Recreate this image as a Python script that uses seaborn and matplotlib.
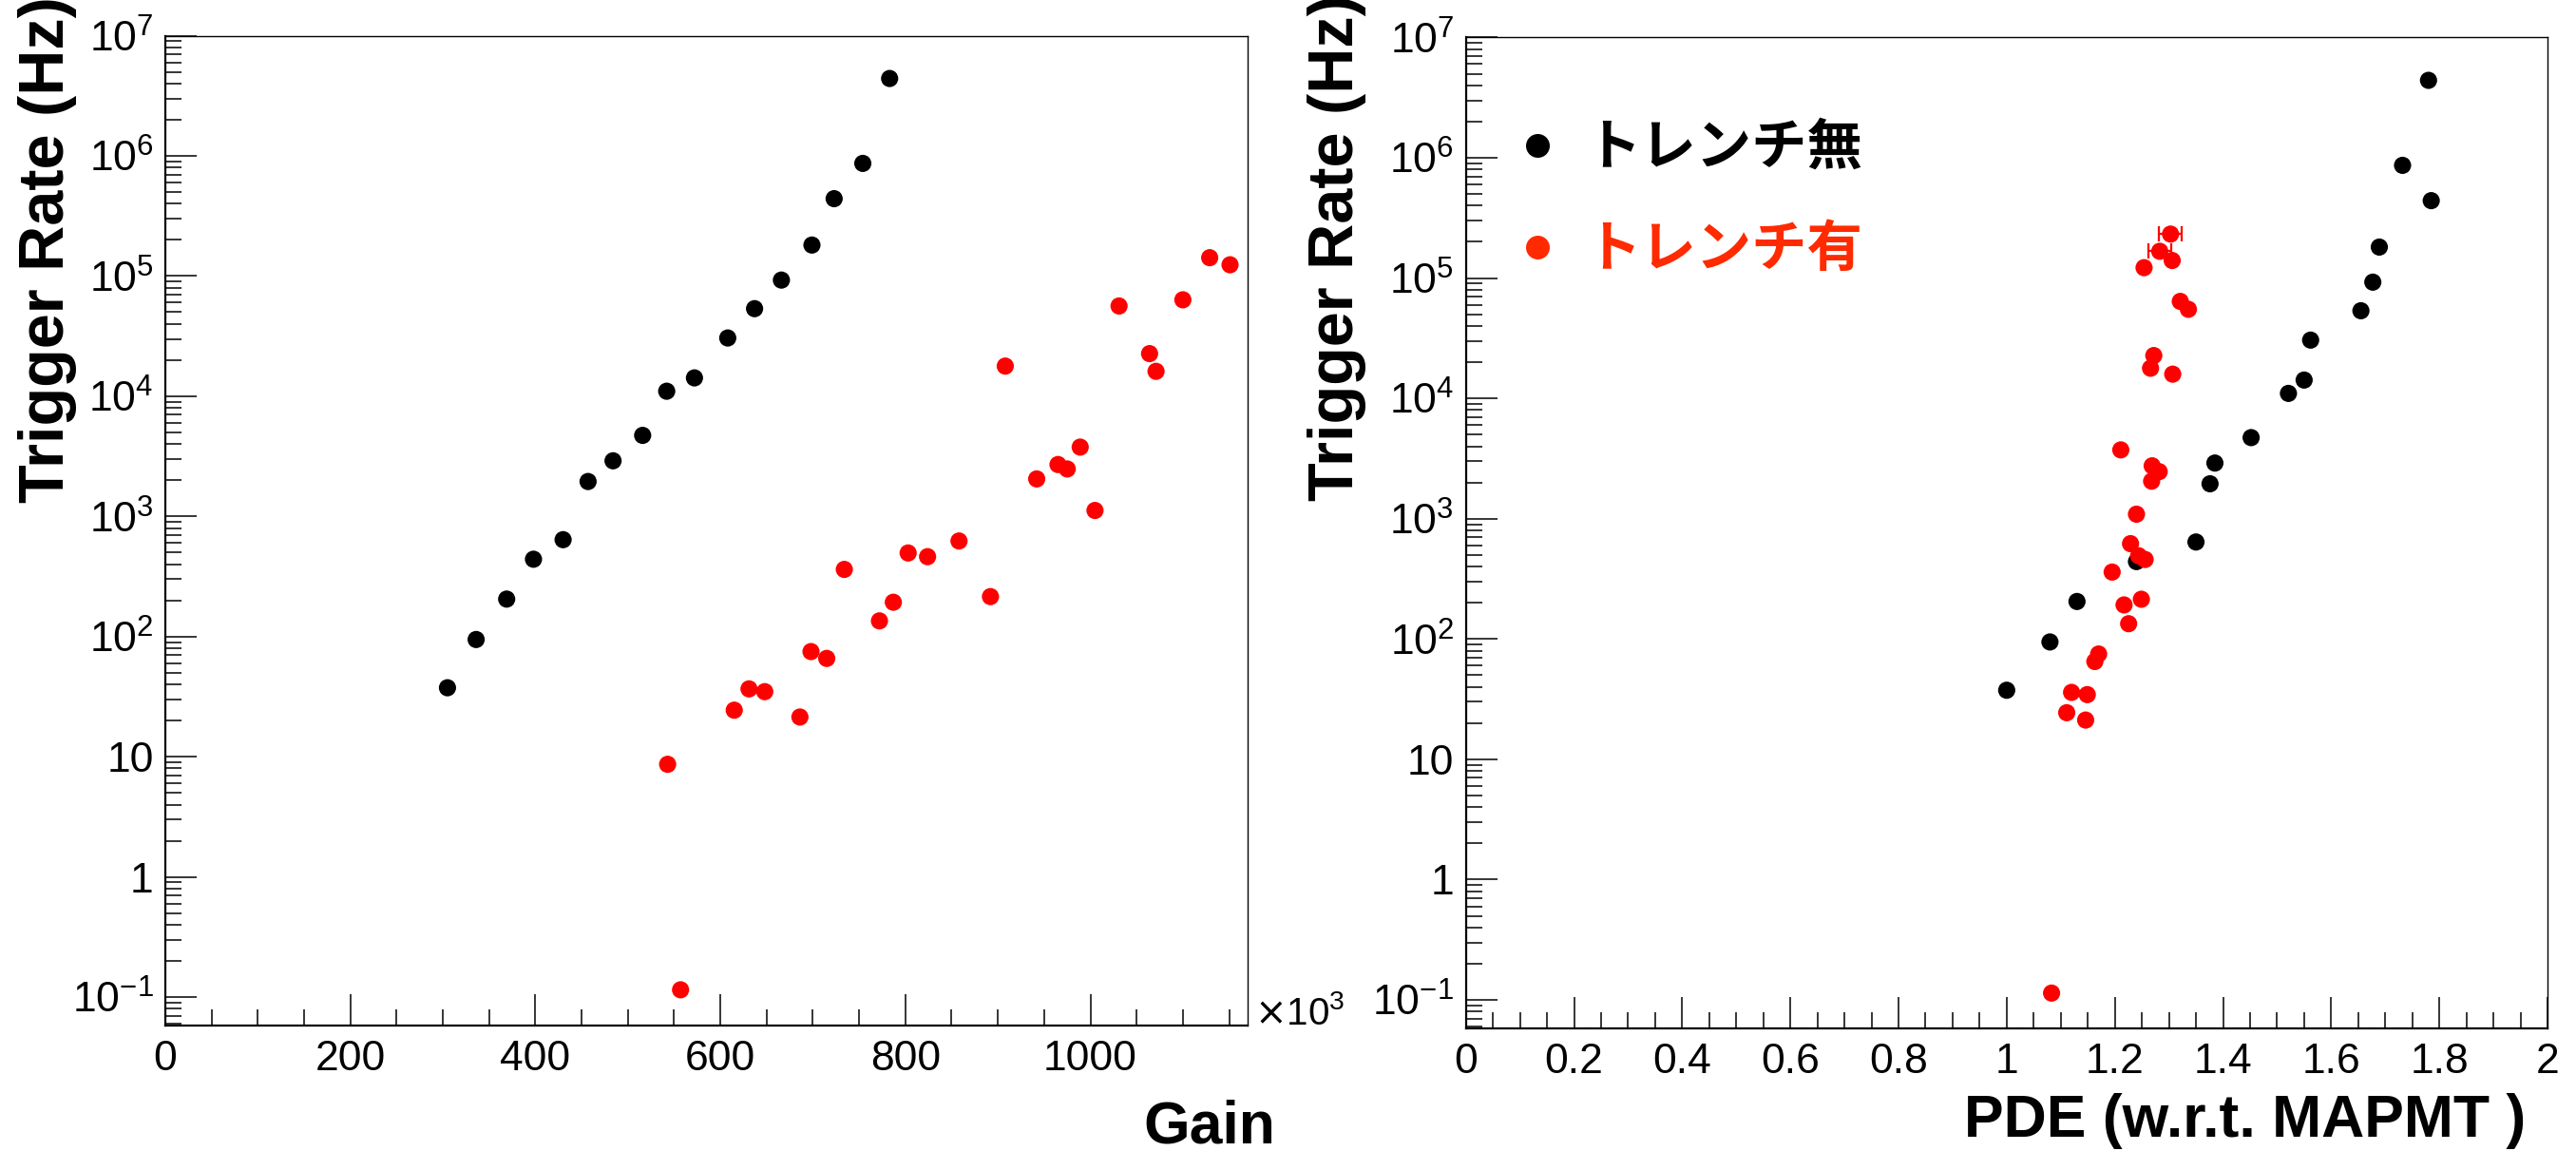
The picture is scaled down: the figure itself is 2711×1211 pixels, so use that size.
import numpy as np
import pandas as pd
import matplotlib
matplotlib.use("Agg")
import matplotlib.pyplot as plt
from matplotlib.ticker import FixedLocator, FuncFormatter, LogLocator, MultipleLocator, NullFormatter
from matplotlib.lines import Line2D
import seaborn as sns

# ---- data -------------------------------------------------------------
# Without trench: trigger rate vs gain (x10^3) and vs PDE (relative to MAPMT)
gain_no_trench = [305, 336, 369, 398, 430, 457, 484, 516, 542, 572,
                  608, 637, 666, 699, 723, 754, 783]
pde_no_trench = [1.00, 1.08, 1.13, 1.24, 1.35, 1.376, 1.385, 1.452, 1.521, 1.550,
                 1.562, 1.655, 1.677, 1.689, 1.785, 1.732, 1.780]
rate_no_trench = [37.5, 94.5, 205, 440, 640, 1950, 2900, 4720, 11000, 14200,
                  30500, 53500, 92500, 181000, 440000, 865000, 4.4e6]

# With trench: rate vs gain
gain_trench = [1129, 1151, 1100, 1031, 1064, 1071, 908, 989, 965, 975,
               942, 1005, 858, 803, 824, 734, 892, 787, 772, 698,
               715, 631, 648, 615, 686, 543, 557]
rate_trench_gain = [1.42e5, 1.24e5, 6.34e4, 5.63e4, 2.26e4, 1.61e4, 1.78e4, 3770, 2700, 2480,
                    2050, 1120, 624, 496, 462, 362, 215, 193, 135, 75,
                    65.8, 36.7, 34.8, 24.4, 21.4, 8.65, 0.115]

# With trench: rate vs PDE (with PDE uncertainty)
pde_trench = [1.303, 1.283, 1.306, 1.254, 1.321, 1.336, 1.272, 1.266, 1.307, 1.211,
              1.269, 1.282, 1.268, 1.240, 1.229, 1.244, 1.256, 1.195, 1.249, 1.217,
              1.2255, 1.170, 1.163, 1.120, 1.149, 1.111, 1.146, 1.083]
rate_trench_pde = [2.32e5, 1.67e5, 1.40e5, 1.22e5, 6.4e4, 5.5e4, 2.27e4, 1.78e4, 1.59e4, 3730,
                   2750, 2460, 2050, 1090, 620, 492, 458, 360, 214, 192,
                   134, 75, 65, 36, 34.5, 24.4, 21.2, 0.114]
pde_err_trench = [0.021, 0.021, 0, 0, 0, 0, 0, 0, 0, 0,
                  0, 0, 0, 0, 0, 0, 0, 0, 0, 0,
                  0, 0, 0, 0, 0, 0, 0, 0]

series_names = ["トレンチ無", "トレンチ有"]
gain_ticks = [0, 200, 400, 600, 800, 1000]
pde_ticks = [0, 0.2, 0.4, 0.6, 0.8, 1, 1.2, 1.4, 1.6, 1.8, 2]
rate_ticks = [1e-1, 1, 10, 1e2, 1e3, 1e4, 1e5, 1e6, 1e7]

# ---- tables -----------------------------------------------------------
df_gain = pd.concat([
    pd.DataFrame({"x": gain_no_trench, "rate": rate_no_trench, "sample": series_names[0]}),
    pd.DataFrame({"x": gain_trench, "rate": rate_trench_gain, "sample": series_names[1]}),
], ignore_index=True)
df_pde = pd.concat([
    pd.DataFrame({"x": pde_no_trench, "rate": rate_no_trench, "sample": series_names[0]}),
    pd.DataFrame({"x": pde_trench, "rate": rate_trench_pde, "sample": series_names[1]}),
], ignore_index=True)

# ---- style ------------------------------------------------------------
sns.set_style("white")
plt.rcParams["font.family"] = ["Liberation Sans", "DejaVu Sans"]
plt.rcParams["axes.unicode_minus"] = False
for key in ("text.color", "axes.labelcolor", "xtick.color", "ytick.color", "axes.edgecolor"):
    plt.rcParams[key] = "black"

palette = {series_names[0]: "black", series_names[1]: "#ff0000"}
legend_colors = ["black", "#ff2a00"]

W, H = 2711, 1211
fig = plt.figure(figsize=(W / 100, H / 100), dpi=100)
ax1 = fig.add_axes([174 / W, 1 - 1079 / H, (1313 - 174) / W, (1079 - 37.5) / H])
ax2 = fig.add_axes([1542.7 / W, 1 - 1082 / H, (2681 - 1542.7) / W, (1082 - 39.4) / H])


def rate_label(v, pos):
    if np.isclose(v, 1):
        return "1"
    if np.isclose(v, 10):
        return "10"
    e = int(round(np.log10(v)))
    return r"$\mathdefault{10^{%d}}$" % e


def style_axes(ax, xmax, xmajor, xminor, xfmt):
    ax.set_yscale("log")
    ax.set_ylim(0.058, 1e7)
    ax.set_xlim(0, xmax)
    ax.yaxis.set_major_locator(FixedLocator(rate_ticks))
    ax.yaxis.set_major_formatter(FuncFormatter(rate_label))
    ax.yaxis.set_minor_locator(LogLocator(base=10, subs=np.arange(2, 10), numticks=20))
    ax.yaxis.set_minor_formatter(NullFormatter())
    ax.xaxis.set_major_locator(FixedLocator(xmajor))
    ax.xaxis.set_minor_locator(MultipleLocator(xminor))
    ax.xaxis.set_major_formatter(FuncFormatter(xfmt))
    ax.tick_params(which="both", direction="in", bottom=True, left=True,
                   top=False, right=False, colors="black")
    ax.tick_params(which="major", length=24, width=1.1, labelsize=32)
    ax.tick_params(which="minor", length=12, width=1.1)
    ax.tick_params(axis="y", which="major", pad=9)
    ax.tick_params(axis="x", which="major", pad=11)
    for side in ("left", "bottom"):
        ax.spines[side].set_linewidth(1.6)
        ax.spines[side].set_color("black")
    for side in ("top", "right"):
        ax.spines[side].set_linewidth(1.0)
        ax.spines[side].set_color("black")


# ---- left: rate vs gain ---------------------------------------------
sns.scatterplot(data=df_gain, x="x", y="rate", hue="sample", palette=palette,
                s=170, linewidth=0, legend=False, ax=ax1, zorder=3)
style_axes(ax1, 1170, gain_ticks, 50, lambda v, p: "%d" % v)
ax1.set_xlabel("Gain", fontsize=45, fontweight="bold", loc="right")
ax1.xaxis.set_label_coords(1.0255, -0.119)
ax1.xaxis.label.set_va("baseline")
ax1.set_ylabel("Trigger Rate (Hz)", fontsize=48, fontweight="bold", loc="top")
ax1.yaxis.set_label_coords(-0.094, 1.040)
ax1.yaxis.label.set_va("baseline")
ax1.text(1.006, 0.001, r"$\times\mathdefault{10^{3}}$", transform=ax1.transAxes,
         ha="left", va="baseline", fontsize=29)

# ---- right: rate vs PDE ---------------------------------------------
has_err = [e > 0 for e in pde_err_trench]
ax2.errorbar([p for p, m in zip(pde_trench, has_err) if m],
             [r for r, m in zip(rate_trench_pde, has_err) if m],
             xerr=[e for e in pde_err_trench if e > 0],
             fmt="none", ecolor="#ff0000", elinewidth=1.6, capsize=6, capthick=1.6, zorder=2)
sns.scatterplot(data=df_pde, x="x", y="rate", hue="sample", palette=palette,
                s=170, linewidth=0, legend=False, ax=ax2, zorder=3)
style_axes(ax2, 2, pde_ticks, 0.05, lambda v, p: "%g" % v)
ax2.set_xlabel("PDE (w.r.t. MAPMT )", fontsize=45, fontweight="bold", loc="right")
ax2.xaxis.set_label_coords(0.980, -0.109)
ax2.xaxis.label.set_va("baseline")
ax2.set_ylabel("Trigger Rate (Hz)", fontsize=48, fontweight="bold", loc="top")
ax2.yaxis.set_label_coords(-0.104, 1.043)
ax2.yaxis.label.set_va("baseline")

handles = [Line2D([], [], marker="o", linestyle="", markersize=18,
                  markerfacecolor=c, markeredgewidth=0) for c in legend_colors]
ax2.legend(handles, series_names, loc="upper left", bbox_to_anchor=(0.0407, 0.917),
           frameon=False, borderaxespad=0, borderpad=0, handlelength=1.0,
           handletextpad=0.36, labelspacing=0.81,
           prop={"family": ["Noto Sans CJK JP", "DejaVu Sans"], "size": 42, "weight": "bold"},
           labelcolor=legend_colors)

fig.savefig("out.png", dpi=100, facecolor="white")
